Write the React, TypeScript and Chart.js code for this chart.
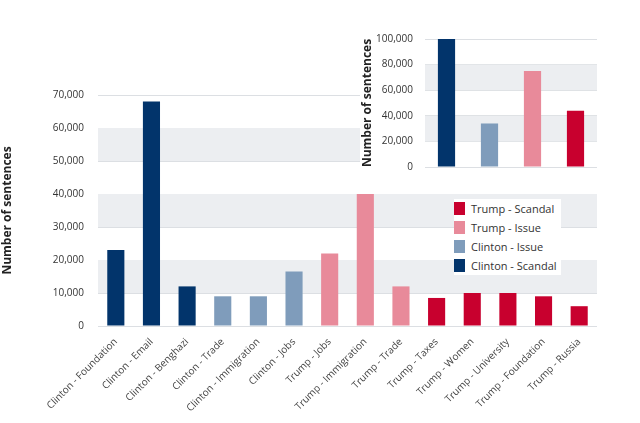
import React, { useEffect, useRef } from "react";
import { Chart, registerables } from "chart.js";
Chart.register(...registerables);

const categories = ["Clinton - Foundation","Clinton - Email","Clinton - Benghazi","Clinton - Trade","Clinton - Immigration","Clinton - Jobs","Trump - Jobs","Trump - Immigration","Trump - Trade","Trump - Taxes","Trump - Women","Trump - University","Trump - Foundation","Trump - Russia"];
const values = [23000,68000,12000,9000,9000,16500,22000,40000,12000,8500,10000,10000,9000,6000];
const groups = ["CS","CS","CS","CI","CI","CI","TI","TI","TI","TS","TS","TS","TS","TS"];
const insetGroups = ["CS","CI","TI","TS"];
const insetValues = [100000,34000,75000,44000];
const mainBands = [[10000,20000],[30000,40000],[50000,60000]];
const insetBands = [[20000,40000],[60000,80000]];
const COLORS: Record<string,string> = { CS: "#02346b", CI: "#7f9cbb", TI: "#e88a9a", TS: "#c8002e" };
const legendItems = [["TS","Trump - Scandal"],["TI","Trump - Issue"],["CI","Clinton - Issue"],["CS","Clinton - Scandal"]];

const FONT = "'Open Sans', sans-serif";

function bandPlugin(bands: number[][]) {
  return {
    id: "bands",
    beforeDatasetsDraw(chart: any) {
      const { ctx, chartArea, scales } = chart;
      ctx.save();
      ctx.fillStyle = "#eceef1";
      bands.forEach(([a, b]) => {
        const y1 = scales.y.getPixelForValue(b);
        const y2 = scales.y.getPixelForValue(a);
        ctx.fillRect(chartArea.left, y1, chartArea.right - chartArea.left, y2 - y1);
      });
      ctx.restore();
    },
  };
}

export default function App() {
  const mainRef = useRef<HTMLCanvasElement>(null);
  const insetRef = useRef<HTMLCanvasElement>(null);
  useEffect(() => {
    const main = new Chart(mainRef.current!, {
      type: "bar",
      data: { labels: categories, datasets: [{ data: values, backgroundColor: groups.map(g => COLORS[g]), barPercentage: 0.48, categoryPercentage: 1 }] },
      options: {
        animation: false, responsive: false, devicePixelRatio: 1,
        layout: { padding: { top: 95, right: 43, left: 0, bottom: 0 } },
        plugins: { legend: { display: false }, tooltip: { enabled: false } },
        scales: {
          x: {
            grid: { display: false }, border: { display: false },
            ticks: { color: "#444", font: { family: FONT, size: 10 }, maxRotation: 45, minRotation: 45, padding: 2 },
            afterFit: (s: any) => { s.height = 97; },
          },
          y: {
            min: 0, max: 70000,
            ticks: { stepSize: 10000, color: "#333", font: { family: FONT, size: 10 }, padding: 14 },
            grid: { color: "#dcdfe3", drawTicks: false }, border: { display: false },
            title: { display: true, text: "Number of sentences", color: "#222", font: { family: FONT, size: 12, weight: "bold" }, padding: 0 },
            afterFit: (s: any) => { s.width = 98; },
          },
        },
      },
      plugins: [bandPlugin(mainBands)],
    } as any);
    const inset = new Chart(insetRef.current!, {
      type: "bar",
      data: { labels: insetGroups, datasets: [{ data: insetValues, backgroundColor: insetGroups.map(g => COLORS[g]), barPercentage: 0.4, categoryPercentage: 1 }] },
      options: {
        animation: false, responsive: false, devicePixelRatio: 1,
        layout: { padding: { top: 39, right: 43, left: 0, bottom: 0 } },
        plugins: { legend: { display: false }, tooltip: { enabled: false } },
        scales: {
          x: { grid: { display: false }, border: { display: false }, ticks: { display: false }, afterFit: (s: any) => { s.height = 17; } },
          y: {
            min: 0, max: 100000,
            ticks: { stepSize: 20000, color: "#333", font: { family: FONT, size: 10 }, padding: 12 },
            grid: { color: "#dcdfe3", drawTicks: false }, border: { display: false },
            title: { display: true, text: "Number of sentences", color: "#222", font: { family: FONT, size: 12, weight: "bold" }, padding: 0 },
            afterFit: (s: any) => { s.width = 65; },
          },
        },
      },
      plugins: [bandPlugin(insetBands)],
    } as any);
    return () => { main.destroy(); inset.destroy(); };
  }, []);
  return (
    <div style={{ position: "absolute", left: 0, top: 0, width: 640, height: 423, background: "#fff", fontFamily: FONT }}>
      <canvas ref={mainRef} width={640} height={423} style={{ position: "absolute", left: 0, top: 0 }} />
      <canvas ref={insetRef} width={280} height={185} style={{ position: "absolute", left: 360, top: 0, background: "#fff" }} />
      <div style={{ position: "absolute", left: 454, top: 199, background: "#fff", padding: "0 4px 0 0" }}>
        {legendItems.map(([g, t]) => (
          <div key={g} style={{ display: "flex", alignItems: "center", height: 19, fontSize: 11, color: "#333" }}>
            <span style={{ width: 11, height: 13, background: COLORS[g], marginRight: 6, display: "inline-block" }} />
            {t}
          </div>
        ))}
      </div>
    </div>
  );
}
